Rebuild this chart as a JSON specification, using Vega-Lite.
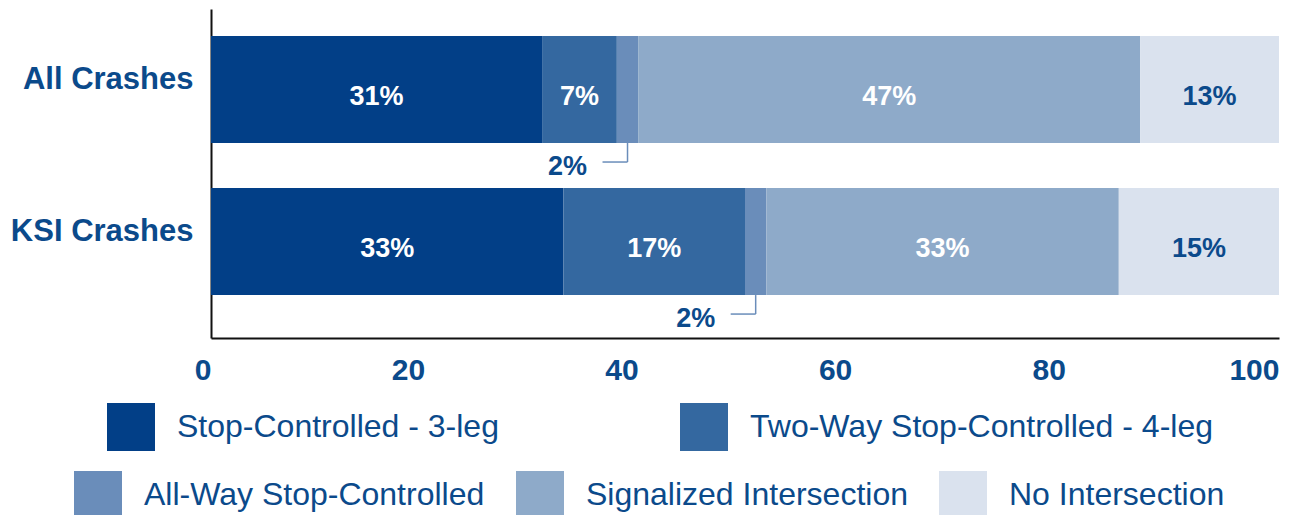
{
  "$schema": "https://vega.github.io/schema/vega-lite/v6.json",
  "width": 1068,
  "height": 329,
  "autosize": {"type": "none"},
  "padding": {"left": 211, "top": 9, "right": 12, "bottom": 177},
  "background": "white",
  "config": {"view": {"stroke": null}, "font": "Liberation Sans"},
  "data": {
    "values": [
      {"crash": "All Crashes", "cat": "Stop-Controlled - 3-leg", "idx": 1, "pct": 31},
      {"crash": "All Crashes", "cat": "Two-Way Stop-Controlled - 4-leg", "idx": 2, "pct": 7},
      {"crash": "All Crashes", "cat": "All-Way Stop-Controlled", "idx": 3, "pct": 2},
      {"crash": "All Crashes", "cat": "Signalized Intersection", "idx": 4, "pct": 47},
      {"crash": "All Crashes", "cat": "No Intersection", "idx": 5, "pct": 13},
      {"crash": "KSI Crashes", "cat": "Stop-Controlled - 3-leg", "idx": 1, "pct": 33},
      {"crash": "KSI Crashes", "cat": "Two-Way Stop-Controlled - 4-leg", "idx": 2, "pct": 17},
      {"crash": "KSI Crashes", "cat": "All-Way Stop-Controlled", "idx": 3, "pct": 2},
      {"crash": "KSI Crashes", "cat": "Signalized Intersection", "idx": 4, "pct": 33},
      {"crash": "KSI Crashes", "cat": "No Intersection", "idx": 5, "pct": 15}
    ]
  },
  "transform": [
    {"stack": "pct", "groupby": ["crash"], "sort": [{"field": "idx", "order": "ascending"}], "as": ["x0", "x1"]},
    {"calculate": "(datum.x0 + datum.x1) / 2", "as": "mid"},
    {"calculate": "datum.pct + '%'", "as": "label"}
  ],
  "encoding": {
    "y": {
      "field": "crash",
      "type": "nominal",
      "sort": ["All Crashes", "KSI Crashes"],
      "scale": {"paddingInner": 0.296, "paddingOuter": 0.23, "align": 0.386},
      "axis": {
        "title": null,
        "ticks": false,
        "tickSize": 0,
        "domainColor": "#111111",
        "domainWidth": 2,
        "labelFont": "Liberation Sans",
        "labelFontWeight": "bold",
        "labelFontSize": 31,
        "labelColor": "#0b4a8b",
        "labelPadding": 18,
        "labelOffset": -10,
        "labelLimit": 400
      }
    }
  },
  "layer": [
    {
      "transform": [{"filter": "datum.idx <= 2"}],
      "mark": {"type": "bar"},
      "encoding": {
        "x": {
          "field": "x0",
          "type": "quantitative",
          "scale": {"domain": [0, 100], "nice": false},
          "axis": {
            "title": null,
            "values": [0, 20, 40, 60, 80, 100],
            "ticks": false,
            "tickSize": 0,
            "grid": false,
            "domainColor": "#111111",
            "domainWidth": 2,
            "labelAlign": "right",
            "labelFlush": false,
            "labelOverlap": false,
            "labelFont": "Liberation Sans",
            "labelFontWeight": "bold",
            "labelFontSize": 30,
            "labelColor": "#0b4a8b",
            "labelPadding": 17
          }
        },
        "x2": {"field": "x1"},
        "color": {
          "field": "cat",
          "type": "nominal",
          "scale": {
            "domain": ["Stop-Controlled - 3-leg", "Two-Way Stop-Controlled - 4-leg"],
            "range": ["#023f87", "#3468a0"]
          },
          "legend": {
            "title": null,
            "orient": "none",
            "legendX": -104,
            "legendY": 394,
            "direction": "horizontal",
            "symbolType": "square",
            "symbolSize": 2304,
            "symbolStrokeWidth": 0,
            "symbolOpacity": 1,
            "labelFont": "Liberation Sans",
            "labelFontSize": 32,
            "labelColor": "#0b4a8b",
            "labelOffset": 22,
            "columnPadding": 181,
            "labelLimit": 800,
            "padding": 0
          }
        }
      }
    },
    {
      "transform": [{"filter": "datum.idx >= 3"}],
      "mark": {"type": "bar"},
      "encoding": {
        "x": {"field": "x0", "type": "quantitative", "scale": {"domain": [0, 100], "nice": false}},
        "x2": {"field": "x1"},
        "color": {
          "field": "cat",
          "type": "nominal",
          "scale": {
            "domain": ["All-Way Stop-Controlled", "Signalized Intersection", "No Intersection"],
            "range": ["#6a8dba", "#8eaac9", "#dae2ee"]
          },
          "legend": {
            "title": null,
            "orient": "none",
            "legendX": -137,
            "legendY": 462,
            "direction": "horizontal",
            "symbolType": "square",
            "symbolSize": 2304,
            "symbolStrokeWidth": 0,
            "symbolOpacity": 1,
            "labelFont": "Liberation Sans",
            "labelFontSize": 32,
            "labelColor": "#0b4a8b",
            "labelOffset": 22,
            "columnPadding": 31,
            "labelLimit": 800,
            "padding": 0
          }
        }
      }
    },
    {
      "transform": [{"filter": "datum.idx != 3"}],
      "mark": {"type": "text", "font": "Liberation Sans", "fontWeight": "bold", "fontSize": 27, "align": "center", "baseline": "middle", "dy": 7},
      "encoding": {
        "x": {"field": "mid", "type": "quantitative", "scale": {"domain": [0, 100], "nice": false}},
        "text": {"field": "label"},
        "color": {"condition": {"test": "datum.idx == 5", "value": "#0b4a8b"}, "value": "#ffffff"}
      }
    },
    {
      "transform": [{"filter": "datum.idx == 3"}],
      "mark": {"type": "text", "font": "Liberation Sans", "fontWeight": "bold", "fontSize": 27, "align": "center", "baseline": "middle", "dx": -60, "dy": 23.5, "color": "#0b4a8b"},
      "encoding": {
        "x": {"field": "mid", "type": "quantitative", "scale": {"domain": [0, 100], "nice": false}},
        "y": {"field": "crash", "type": "nominal", "bandPosition": 1},
        "text": {"field": "label"}
      }
    },
    {
      "transform": [{"filter": "datum.idx == 3"}],
      "mark": {"type": "rule", "color": "#6a8dba", "strokeWidth": 1.5, "y2Offset": 19},
      "encoding": {
        "x": {"field": "mid", "type": "quantitative", "scale": {"domain": [0, 100], "nice": false}},
        "y": {"field": "crash", "type": "nominal", "bandPosition": 1},
        "y2": {"field": "crash", "bandPosition": 1}
      }
    },
    {
      "transform": [{"filter": "datum.idx == 3"}],
      "mark": {"type": "rule", "color": "#6a8dba", "strokeWidth": 1.5, "yOffset": 19, "x2Offset": -25},
      "encoding": {
        "x": {"field": "mid", "type": "quantitative", "scale": {"domain": [0, 100], "nice": false}},
        "x2": {"field": "mid"},
        "y": {"field": "crash", "type": "nominal", "bandPosition": 1}
      }
    }
  ],
  "resolve": {"scale": {"color": "independent"}}
}
